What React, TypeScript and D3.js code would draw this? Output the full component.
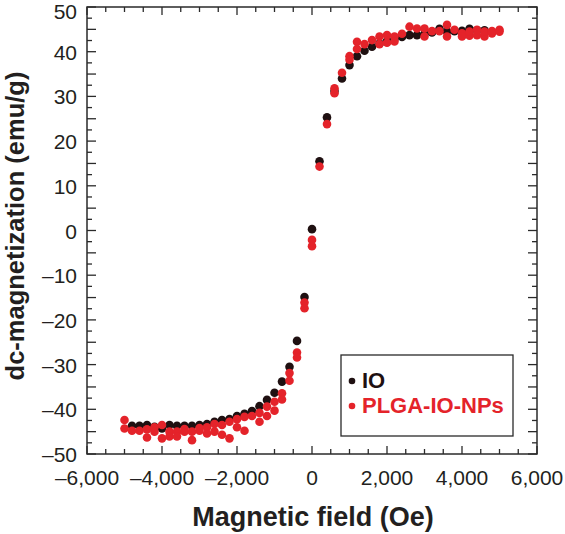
import React from "react";
import * as d3 from "d3";

const ioField = [-4800,-4600,-4400,-4200,-4000,-3800,-3600,-3400,-3200,-3000,-2800,-2600,-2400,-2200,-2000,-1800,-1600,-1400,-1200,-1000,-800,-600,-400,-200,0,200,400,600,800,1000,1200,1400,1600,1800,2000,2200,2400,2600,2800,3000,3200,3400,3600,3800,4000,4200,4400,4600];
const ioMag = [-43.7,-43.7,-43.5,-43.9,-44.3,-43.5,-43.7,-43.7,-43.7,-43.5,-43.3,-42.8,-42.4,-42.2,-41.5,-41.0,-40.4,-39.3,-37.9,-36.3,-33.8,-30.5,-24.7,-14.9,0.3,15.5,25.3,31.2,34.0,37.0,39.0,40.2,41.1,41.8,42.4,42.9,43.3,43.7,43.7,44.0,44.3,45.1,44.5,44.6,44.7,45.1,44.8,44.8];

const plgaField = [-5000,-5000,-4800,-4600,-4400,-4400,-4200,-4200,-4000,-4000,-3800,-3800,-3600,-3600,-3400,-3400,-3200,-3200,-3000,-3000,-2800,-2800,-2600,-2600,-2400,-2400,-2200,-2200,-2000,-2000,-1800,-1800,-1600,-1400,-1400,-1200,-1200,-1000,-1000,-800,-800,-600,-600,-400,-400,-200,-200,0,0,200,400,600,600,800,1000,1000,1200,1200,1400,1600,1800,1800,2000,2000,2200,2200,2400,2600,2800,3000,3000,3200,3400,3600,3600,3800,4000,4000,4200,4200,4400,4400,4600,4600,4800,4800,5000,5000];
const plgaMag = [-42.4,-44.3,-44.8,-44.8,-46.3,-44.5,-44.0,-45.0,-43.5,-46.5,-45.0,-46.1,-45.0,-46.1,-45.0,-44.4,-46.9,-45.0,-44.8,-44.2,-44.0,-45.4,-43.3,-45.0,-43.5,-45.7,-42.8,-46.5,-42.2,-44.0,-41.7,-44.8,-41.5,-42.8,-40.8,-41.5,-39.4,-38.3,-40.3,-36.4,-37.8,-31.9,-33.6,-27.3,-28.4,-16.1,-17.4,-2.1,-3.5,14.3,23.8,31.8,30.7,35.3,39.0,38.2,42.2,40.6,41.7,42.6,43.4,41.7,43.7,42.0,43.4,42.3,44.0,45.6,45.2,45.2,43.4,44.6,44.6,46.0,43.4,44.9,44.1,43.4,43.6,44.5,44.9,43.7,43.4,44.5,44.6,44.1,44.9,44.5];

const xTickValues = [-6000,-4000,-2000,0,2000,4000,6000];
const xTickLabels = ["–6,000","–4,000","–2,000","0","2,000","4,000","6,000"];
const yTickValues = [-50,-40,-30,-20,-10,0,10,20,30,40,50];
const yTickLabels = ["–50","–40","–30","–20","–10","0","10","20","30","40","50"];
const seriesNames = ["IO","PLGA-IO-NPs"];
const seriesColors = ["#1f1011","#e4232a"];

const W = 565, H = 534;
const L = 87, R = 537, T = 7, B = 454;
const FONT = "'Liberation Sans', Arial, Helvetica, sans-serif";

export default function App() {
  const x = d3.scaleLinear().domain([-6000, 6000]).range([L, R]);
  const y = d3.scaleLinear().domain([-50, 50]).range([B, T]);

  const xMinor = d3.range(-6000, 6001, 500);
  const yMinor = d3.range(-50, 50.01, 2.5);
  const isXMajor = (v: number) => Math.abs(v % 2000) < 1e-6;
  const isYMajor = (v: number) => Math.abs(v % 5) < 1e-6;

  const ioPts = ioField.map((f, i) => [f, ioMag[i]]);
  const plgaPts = plgaField.map((f, i) => [f, plgaMag[i]]);
  const r = 4.3;
  const stroke = "#2a2a2a";

  return (
    <svg width={W} height={H} style={{ position: "absolute", left: 0, top: 0, background: "#fff" }}>
      {/* ticks */}
      {xMinor.map((v) => {
        const len = isXMajor(v) ? 8 : 5;
        const px = x(v);
        return (
          <g key={"xt" + v}>
            <line x1={px} x2={px} y1={B} y2={B - len} stroke={stroke} strokeWidth={1.3} />
            <line x1={px} x2={px} y1={T} y2={T + len} stroke={stroke} strokeWidth={1.3} />
          </g>
        );
      })}
      {yMinor.map((v) => {
        const len = isYMajor(v) ? 9 : 5;
        const py = y(v);
        return (
          <g key={"yt" + v}>
            <line x1={L} x2={L + len} y1={py} y2={py} stroke={stroke} strokeWidth={1.3} />
            <line x1={R} x2={R - len} y1={py} y2={py} stroke={stroke} strokeWidth={1.3} />
          </g>
        );
      })}
      <rect x={L} y={T} width={R - L} height={B - T} fill="none" stroke={stroke} strokeWidth={1.5} />

      {/* tick labels */}
      {xTickValues.map((v, i) => (
        <text key={"xl" + v} x={x(v)} y={485} textAnchor="middle" fontFamily={FONT} fontSize={21} fill="#231f20">
          {xTickLabels[i]}
        </text>
      ))}
      {yTickValues.map((v, i) => (
        <text key={"yl" + v} x={77} y={Math.max(y(v) + 8, 18.5)} textAnchor="end" fontFamily={FONT} fontSize={21} fill="#231f20">
          {yTickLabels[i]}
        </text>
      ))}

      {/* axis titles */}
      <text x={313} y={526} textAnchor="middle" fontFamily={FONT} fontSize={27} fontWeight="bold" fill="#231f20">
        Magnetic field (Oe)
      </text>
      <text transform={`translate(24,226) rotate(-90)`} textAnchor="middle" fontFamily={FONT} fontSize={25.5} fontWeight="bold" fill="#231f20">
        dc-magnetization (emu/g)
      </text>

      {/* data */}
      {ioPts.map((p, i) => (
        <circle key={"io" + i} cx={x(p[0])} cy={y(p[1])} r={r} fill={seriesColors[0]} />
      ))}
      {plgaPts.map((p, i) => (
        <circle key={"pl" + i} cx={x(p[0])} cy={y(p[1])} r={r} fill={seriesColors[1]} />
      ))}

      {/* legend */}
      <rect x={341} y={355} width={172} height={81} fill="#fff" stroke={stroke} strokeWidth={1.3} />
      {seriesNames.map((n, i) => (
        <g key={"lg" + n}>
          <circle cx={352} cy={381 + i * 25} r={3.3} fill={seriesColors[i]} />
          <text x={362} y={388 + i * 25} fontFamily={FONT} fontSize={22} fontWeight="bold" fill={seriesColors[i]}>
            {n}
          </text>
        </g>
      ))}
    </svg>
  );
}
